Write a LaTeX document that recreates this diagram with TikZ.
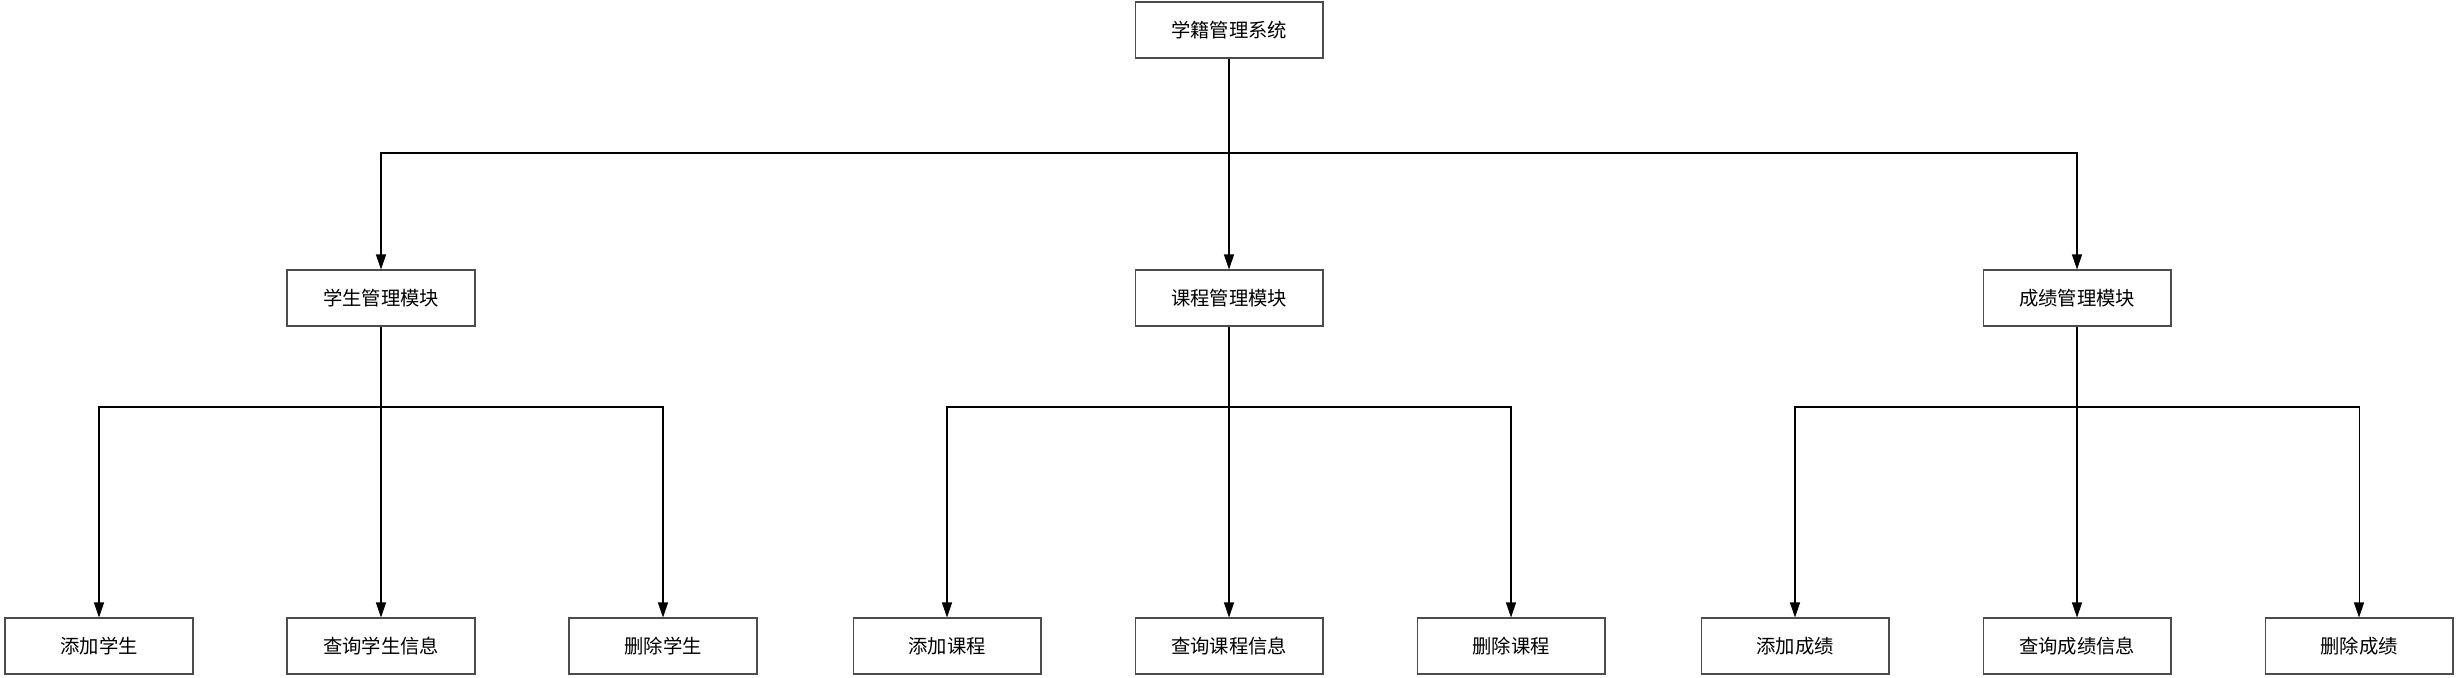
\documentclass[tikz,border=0pt]{standalone}
\usepackage{fontspec}
\newfontfamily\cjk{Noto Sans CJK SC}
\usetikzlibrary{arrows.meta}

\tikzset{
	box/.style={draw=black!70, line width=0.6pt, fill=white, minimum width=3.76cm, minimum height=1.12cm, inner sep=0pt, font=\cjk\fontsize{11}{13}\selectfont},
	trunk/.style={line width=1.1pt},
	branch/.style={line width=0.6pt},
	arr/.style={branch, -{Triangle[length=0.3cm, width=0.2cm]}}
}

\begin{document}
\begin{tikzpicture}[x=0.02cm, y=-0.02cm]
				\useasboundingbox (0, 0) rectangle (2458, 677);
				% top
				\node[box] (sys) at (1229, 30) {学籍管理系统};
				% modules
				\node[box] (stu) at (381, 298) {学生管理模块};
				\node[box] (cou) at (1229, 298) {课程管理模块};
				\node[box] (gra) at (2077, 298) {成绩管理模块};
				% leaves
				\node[box] (stuadd) at (99, 646) {添加学生};
				\node[box] (stuqry) at (381, 646) {查询学生信息};
				\node[box] (studel) at (663, 646) {删除学生};
				\node[box] (couadd) at (947, 646) {添加课程};
				\node[box] (couqry) at (1229, 646) {查询课程信息};
				\node[box] (coudel) at (1511, 646) {删除课程};
				\node[box] (graadd) at (1795, 646) {添加成绩};
				\node[box] (graqry) at (2077, 646) {查询成绩信息};
				\node[box] (gradel) at (2359, 646) {删除成绩};
				% junctions
				\coordinate (j0) at (sys.south |- 0, 153);
				\coordinate (j1) at (stu.south |- 0, 407);
				\coordinate (j2) at (cou.south |- 0, 407);
				\coordinate (j3) at (gra.south |- 0, 407);
				% connectors
				\draw[trunk] (sys.south) -- (j0);
				\draw[arr] (j0) -| (stu.north);
				\draw[arr] (j0) -- (cou.north);
				\draw[arr] (j0) -| (gra.north);
				\foreach \m/\a/\q/\d in {1/stuadd/stuqry/studel, 2/couadd/couqry/coudel, 3/graadd/graqry/gradel}
				{
					\draw[arr] (j\m) -| (\a.north);
					\draw[arr] (j\m) -- (\q.north);
					\draw[arr] (j\m) -| (\d.north);
				}
				\draw[trunk] (stu.south) -- (j1);
				\draw[trunk] (cou.south) -- (j2);
				\draw[trunk] (gra.south) -- (j3);
\end{tikzpicture}
\end{document}
